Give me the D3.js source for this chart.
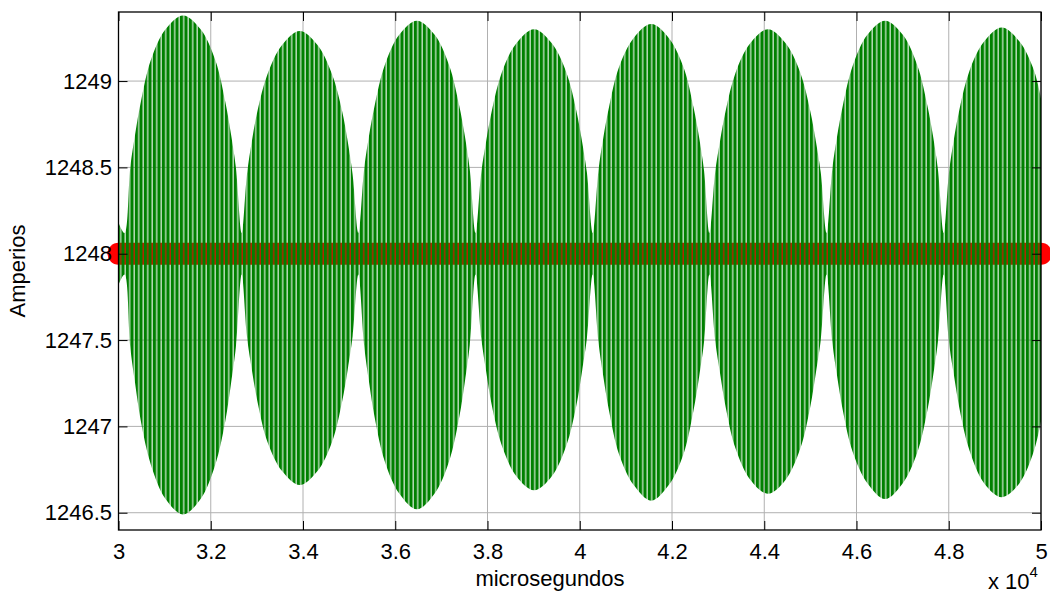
<!DOCTYPE html>
<html>
<head>
<meta charset="utf-8">
<script src="https://cdn.jsdelivr.net/npm/d3@7"></script>
<style>
  body { margin: 0; background: #fff; }
  text { font-family: Arial, 'Liberation Sans', sans-serif; }
</style>
</head>
<body>
<svg id="chart" width="1050" height="596"></svg>
<script>
// envelope of the green signal (microseconds / amperes)
const envTime = [
  30000, 30130,
  30255, 30360, 30485, 30700, 31020, 31400, 31780, 32100, 32315, 32440, 32545, 32670,
  32785, 32890, 33015, 33230, 33550, 33930, 34310, 34630, 34845, 34970, 35075, 35200,
  35325, 35430, 35555, 35770, 36090, 36470, 36850, 37170, 37385, 37510, 37615, 37740,
  37865, 37970, 38095, 38310, 38630, 39010, 39390, 39710, 39925, 40050, 40155, 40280,
  40405, 40510, 40635, 40850, 41170, 41550, 41930, 42250, 42465, 42590, 42695, 42810,
  42935, 43040, 43165, 43380, 43700, 44080, 44460, 44780, 44995, 45120, 45225, 45350,
  45475, 45580, 45705, 45920, 46240, 46620, 47000, 47320, 47535, 47660, 47765, 47890,
  48005, 48110, 48235, 48450, 48770, 49150, 49530, 49850, 50000
];
const envUpper = [
  1248.18, 1248.12,
  1248.50, 1248.69, 1248.88, 1249.12, 1249.30, 1249.38, 1249.30, 1249.12, 1248.88, 1248.69, 1248.50, 1248.12,
  1248.46, 1248.65, 1248.83, 1249.04, 1249.21, 1249.29, 1249.21, 1249.04, 1248.83, 1248.65, 1248.46, 1248.12,
  1248.49, 1248.68, 1248.86, 1249.09, 1249.27, 1249.35, 1249.27, 1249.09, 1248.86, 1248.68, 1248.49, 1248.12,
  1248.47, 1248.65, 1248.83, 1249.05, 1249.22, 1249.30, 1249.22, 1249.05, 1248.83, 1248.65, 1248.47, 1248.12,
  1248.48, 1248.67, 1248.85, 1249.08, 1249.25, 1249.33, 1249.25, 1249.08, 1248.85, 1248.67, 1248.48, 1248.12,
  1248.47, 1248.65, 1248.83, 1249.05, 1249.22, 1249.30, 1249.22, 1249.05, 1248.83, 1248.65, 1248.47, 1248.12,
  1248.49, 1248.68, 1248.86, 1249.09, 1249.27, 1249.35, 1249.27, 1249.09, 1248.86, 1248.68, 1248.49, 1248.12,
  1248.47, 1248.66, 1248.84, 1249.06, 1249.23, 1249.31, 1249.23, 1249.06, 1248.90
];
const envLower = [
  1247.82, 1247.88,
  1247.46, 1247.25, 1247.03, 1246.78, 1246.58, 1246.49, 1246.58, 1246.78, 1247.03, 1247.25, 1247.46, 1247.88,
  1247.52, 1247.33, 1247.14, 1246.91, 1246.74, 1246.66, 1246.74, 1246.91, 1247.14, 1247.33, 1247.52, 1247.88,
  1247.47, 1247.26, 1247.05, 1246.80, 1246.61, 1246.52, 1246.61, 1246.80, 1247.05, 1247.26, 1247.47, 1247.88,
  1247.51, 1247.32, 1247.12, 1246.89, 1246.71, 1246.63, 1246.71, 1246.89, 1247.12, 1247.32, 1247.51, 1247.88,
  1247.49, 1247.29, 1247.09, 1246.84, 1246.66, 1246.57, 1246.66, 1246.84, 1247.09, 1247.29, 1247.49, 1247.88,
  1247.50, 1247.31, 1247.11, 1246.87, 1246.69, 1246.61, 1246.69, 1246.87, 1247.11, 1247.31, 1247.50, 1247.88,
  1247.49, 1247.29, 1247.09, 1246.85, 1246.67, 1246.58, 1246.67, 1246.85, 1247.09, 1247.29, 1247.49, 1247.88,
  1247.49, 1247.30, 1247.10, 1246.86, 1246.67, 1246.59, 1246.67, 1246.86, 1247.03
];

// red reference level (markers)
const redTime = [30000, 32500, 35000, 37500, 40000, 42500, 45000, 47500, 50000];
const redLevel = [1248, 1248, 1248, 1248, 1248, 1248, 1248, 1248, 1248];

const xTicks = [30000, 32000, 34000, 36000, 38000, 40000, 42000, 44000, 46000, 48000, 50000];
const yTicks = [1246.5, 1247, 1247.5, 1248, 1248.5, 1249];

const margin = { top: 12, right: 9, bottom: 66, left: 118.5 },
  width = 1050,
  height = 596;

const svg = d3.select('#chart');

const x = d3
  .scaleLinear()
  .domain([30000, 50000])
  .range([margin.left, width - margin.right]);

const y = d3
  .scaleLinear()
  .domain([1246.4, 1249.4])
  .range([height - margin.bottom, margin.top]);

// stripe pattern to mimic the dense carrier strokes
const defs = svg.append('defs');
const pat = defs
  .append('pattern')
  .attr('id', 'stripes')
  .attr('patternUnits', 'userSpaceOnUse')
  .attr('width', 4.5)
  .attr('height', 10);
pat.append('rect').attr('width', 4.5).attr('height', 10).attr('fill', '#008000').attr('fill-opacity', 0.3);
pat.append('rect').attr('width', 3).attr('height', 10).attr('fill', '#008000');

// grid
svg
  .append('g')
  .selectAll('line')
  .data(xTicks)
  .join('line')
  .attr('x1', d => x(d))
  .attr('x2', d => x(d))
  .attr('y1', margin.top)
  .attr('y2', height - margin.bottom)
  .attr('stroke', '#b0b0b0');

svg
  .append('g')
  .selectAll('line')
  .data(yTicks)
  .join('line')
  .attr('x1', margin.left)
  .attr('x2', width - margin.right)
  .attr('y1', d => y(d))
  .attr('y2', d => y(d))
  .attr('stroke', '#b0b0b0');

// red markers band
svg
  .append('path')
  .datum(redTime.map((t, i) => [t, redLevel[i]]))
  .attr('fill', 'none')
  .attr('stroke', '#ff0000')
  .attr('stroke-width', 22)
  .attr('stroke-linecap', 'round')
  .attr('d', d3.line().x(d => x(d[0])).y(d => y(d[1])));

// green signal
const area = d3
  .area()
  .curve(d3.curveCatmullRom.alpha(0.5))
  .x((d, i) => x(envTime[i]))
  .y0((d, i) => y(envLower[i]))
  .y1((d, i) => y(envUpper[i]));

svg
  .append('path')
  .datum(envTime)
  .attr('fill', 'url(#stripes)')
  .attr('d', area);

// axes (ticks inward on all four sides)
svg
  .append('g')
  .attr('transform', `translate(0,${height - margin.bottom})`)
  .call(
    d3.axisBottom(x).tickValues(xTicks).tickSizeInner(-9).tickSizeOuter(0).tickPadding(13.5)
      .tickFormat(d => d / 10000)
  )
  .call(g => g.select('.domain').remove())
  .call(g => g.selectAll('text').attr('font-size', 22).attr('fill', '#000'));

svg
  .append('g')
  .attr('transform', `translate(0,${margin.top})`)
  .call(d3.axisTop(x).tickValues(xTicks).tickSizeInner(-9).tickSizeOuter(0).tickFormat(''))
  .call(g => g.select('.domain').remove());

svg
  .append('g')
  .attr('transform', `translate(${margin.left},0)`)
  .call(
    d3.axisLeft(y).tickValues(yTicks).tickSizeInner(-9).tickSizeOuter(0).tickPadding(6.5)
      .tickFormat(d => String(d))
  )
  .call(g => g.select('.domain').remove())
  .call(g => g.selectAll('text').attr('font-size', 22).attr('fill', '#000'));

svg
  .append('g')
  .attr('transform', `translate(${width - margin.right},0)`)
  .call(d3.axisRight(y).tickValues(yTicks).tickSizeInner(-9).tickSizeOuter(0).tickFormat(''))
  .call(g => g.select('.domain').remove());

svg
  .append('rect')
  .attr('x', margin.left)
  .attr('y', margin.top)
  .attr('width', width - margin.right - margin.left)
  .attr('height', height - margin.bottom - margin.top)
  .attr('fill', 'none')
  .attr('stroke', '#000')
  .attr('stroke-width', 1.3);

// labels
svg
  .append('text')
  .attr('x', 550)
  .attr('y', 586)
  .attr('text-anchor', 'middle')
  .attr('font-size', 22)
  .text('microsegundos');

svg
  .append('text')
  .attr('transform', `translate(25,${(margin.top + height - margin.bottom) / 2}) rotate(-90)`)
  .attr('text-anchor', 'middle')
  .attr('font-size', 22)
  .text('Amperios');

const exp = svg
  .append('text')
  .attr('x', 988)
  .attr('y', 589)
  .attr('font-size', 22);
exp.append('tspan').text('x 10');
exp.append('tspan').attr('dy', -12).attr('font-size', 15).text('4');
</script>
</body>
</html>
